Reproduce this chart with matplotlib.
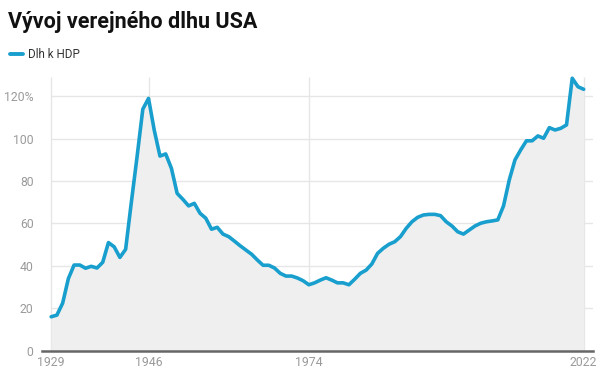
import numpy as np
import matplotlib
matplotlib.use("Agg")
from matplotlib import pyplot as plt

years = np.arange(1929, 2023)
debt_to_gdp = [
    16.0, 16.8, 22.4, 34.0, 40.4, 40.4, 38.9, 39.8, 39.0, 41.7,  # 1929-1938
    51.0, 49.0, 44.0, 47.8, 70.0, 91.5, 113.9, 119.0, 104.0, 91.8,  # 1939-1948
    92.8, 86.0, 74.2, 71.4, 68.3, 69.5, 64.8, 62.5, 57.3, 58.2,  # 1949-1958
    55.0, 53.8, 51.7, 49.5, 47.5, 45.5, 42.8, 40.3, 40.3, 39.0,  # 1959-1968
    36.5, 35.2, 35.2, 34.3, 33.0, 31.1, 32.0, 33.3, 34.4, 33.3,  # 1969-1978
    32.0, 32.0, 31.1, 33.7, 36.5, 38.0, 40.9, 45.9, 48.3, 50.2,  # 1979-1988
    51.4, 53.8, 57.7, 60.8, 62.9, 64.0, 64.3, 64.3, 63.7, 60.8,  # 1989-1998
    58.8, 56.1, 55.0, 56.9, 58.8, 60.1, 60.8, 61.2, 61.7, 68.3,  # 1999-2008
    80.5, 90.0, 94.7, 99.0, 99.0, 101.3, 100.2, 105.2, 104.1, 104.9,  # 2009-2018
    106.5, 128.5, 124.5, 123.3,  # 2019-2022
]
x_ticks = [1929, 1946, 1974, 2022]
y_ticks = [0, 20, 40, 60, 80, 100, 120]
y_tick_labels = ["0", "20", "40", "60", "80", "100", "120%"]

title = "Vývoj verejného dlhu USA"
series_name = "Dlh k HDP"

plt.rcParams["font.family"] = ["Roboto", "DejaVu Sans"]

line_color = "#199fcd"
grid_color = "#e6e6e6"
label_color = "#9a9a9a"

fig = plt.figure(figsize=(6.02, 3.85), dpi=100)
ax = fig.add_axes([0.0698, 0.0891, 0.915, 0.7104])

x_min, x_max = 1927.4, 2023.6
y_max = 129

# grid: horizontal lines start at the first year, vertical lines at tick years
ax.hlines(y_ticks[1:], years[0], x_max, color=grid_color, lw=1, zorder=0)
ax.vlines(x_ticks, 0, y_max, color=grid_color, lw=1, zorder=0)

ax.fill_between(years, debt_to_gdp, 0, color="#efefef", lw=0, zorder=1)
ax.plot(years, debt_to_gdp, color=line_color, lw=2.6, solid_joinstyle="round",
        solid_capstyle="round", zorder=3, clip_on=False)

ax.set_xlim(x_min, x_max)
ax.set_ylim(0, y_max)
ax.set_xticks(x_ticks)
ax.set_yticks(y_ticks)
ax.set_yticklabels(y_tick_labels)
ax.tick_params(axis="both", length=0, labelsize=8.8, labelcolor=label_color)
ax.tick_params(axis="y", pad=6)
ax.tick_params(axis="x", pad=4)

for side in ["top", "right", "left"]:
    ax.spines[side].set_visible(False)
ax.spines["bottom"].set_color("#666666")
ax.spines["bottom"].set_linewidth(1.8)
ax.spines["bottom"].set_zorder(4)

fig.text(0.0133, 0.928, title, fontsize=15.5, fontweight="bold", color="#111111",
         va="baseline", ha="left")
fig.lines.append(plt.Line2D([0.0166, 0.038], [0.859, 0.859], color=line_color,
                            lw=2.8, solid_capstyle="round", transform=fig.transFigure))
fig.text(0.0465, 0.859, series_name, fontsize=8.4, color="#333333",
         va="center", ha="left")

fig.savefig("out.png", dpi=100)
